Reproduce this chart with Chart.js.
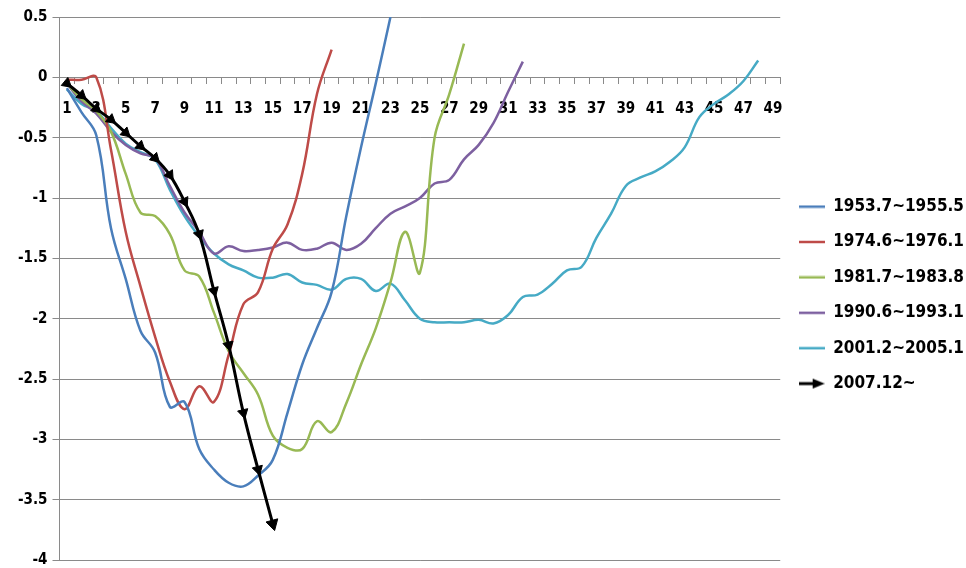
<!DOCTYPE html>
<html>
<head>
<meta charset="utf-8">
<title>Recession comparison</title>
<script src="https://cdn.jsdelivr.net/npm/chart.js@4.4.1/dist/chart.umd.min.js"></script>
<style>
    html, body { margin: 0; padding: 0; background: #fff; }
    #wrap { width: 966px; height: 568px; position: relative; }
</style>
</head>
<body>
<div id="wrap"><canvas id="chart"></canvas></div>
<script>
// Categories (months from start)
const categories = [1, 2, 3, 4, 5, 6, 7, 8, 9, 10, 11, 12, 13, 14, 15, 16, 17, 18, 19, 20,
    21, 22, 23, 24, 25, 26, 27, 28, 29, 30, 31, 32, 33, 34, 35, 36, 37, 38, 39, 40,
    41, 42, 43, 44, 45, 46, 47, 48, 49];

const seriesNames = ['1953.7~1955.5', '1974.6~1976.1', '1981.7~1983.8', '1990.6~1993.1', '2001.2~2005.1', '2007.12~'];

const s1953 = [-0.09, -0.29, -0.48, -1.25, -1.67, -2.1, -2.28, -2.73, -2.69, -3.08, -3.25, -3.36, -3.39, -3.3, -3.17,
    -2.78, -2.38, -2.08, -1.78, -1.15, -0.58, -0.05, 0.5];
const s1974 = [-0.02, -0.02, 0.0, -0.6, -1.28, -1.73, -2.15, -2.52, -2.75, -2.56, -2.69, -2.3, -1.88, -1.78, -1.42,
    -1.22, -0.8, -0.14, 0.23];
const s1981 = [-0.05, -0.18, -0.28, -0.45, -0.8, -1.12, -1.15, -1.3, -1.6, -1.65, -1.95, -2.27, -2.45, -2.63, -2.97,
    -3.07, -3.08, -2.85, -2.94, -2.7, -2.38, -2.08, -1.7, -1.28, -1.62, -0.5, -0.14, 0.28];
const s1990 = [-0.05, -0.2, -0.3, -0.45, -0.56, -0.63, -0.67, -0.9, -1.12, -1.28, -1.46, -1.4, -1.44, -1.43, -1.41,
    -1.37, -1.43, -1.42, -1.37, -1.43, -1.38, -1.25, -1.13, -1.07, -1.0, -0.88, -0.85, -0.68, -0.56, -0.38,
    -0.12, 0.13];
const s2001 = [-0.1, -0.22, -0.28, -0.42, -0.55, -0.62, -0.68, -0.93, -1.15, -1.32, -1.46, -1.55, -1.6, -1.66, -1.66,
    -1.63, -1.7, -1.72, -1.76, -1.67, -1.67, -1.77, -1.71, -1.85, -2.0, -2.03, -2.03, -2.03, -2.01, -2.04,
    -1.97, -1.82, -1.8, -1.71, -1.6, -1.57, -1.33, -1.13, -0.9, -0.83, -0.78, -0.7, -0.58, -0.33, -0.22,
    -0.14, -0.03, 0.14];
const s2007 = [-0.05, -0.15, -0.26, -0.35, -0.46, -0.57, -0.67, -0.81, -1.03, -1.3, -1.77, -2.22, -2.78, -3.25, -3.7];

const seriesColors = ['#4a7ebb', '#be4b48', '#98b954', '#7d60a0', '#46aac5', '#000000'];

const FONT = "'DejaVu Sans Condensed', 'DejaVu Sans', sans-serif";
const GRID = '#8a8a8a';

// Legend icons: plain line for the history series, arrow for the current one
function makeLineIcon(color) {
    const c = document.createElement('canvas');
    c.width = 26;
    c.height = 4;
    const ctx = c.getContext('2d');
    ctx.strokeStyle = color;
    ctx.lineWidth = 2.5;
    ctx.beginPath();
    ctx.moveTo(0, 2);
    ctx.lineTo(26, 2);
    ctx.stroke();
    return c;
}

function makeArrowIcon() {
    const c = document.createElement('canvas');
    c.width = 26;
    c.height = 12;
    const ctx = c.getContext('2d');
    ctx.strokeStyle = '#000';
    ctx.fillStyle = '#000';
    ctx.lineWidth = 3;
    ctx.beginPath();
    ctx.moveTo(0, 6);
    ctx.lineTo(18, 6);
    ctx.stroke();
    ctx.beginPath();
    ctx.moveTo(14, 1);
    ctx.lineTo(26, 6);
    ctx.lineTo(14, 11);
    ctx.closePath();
    ctx.fill();
    return c;
}

const legendIcons = seriesColors.slice(0, 5).map(makeLineIcon).concat([makeArrowIcon()]);

// Arrow markers follow the direction of the line
function arrowRotation(ctx) {
    const chart = ctx.chart;
    const data = ctx.dataset.data;
    const i = ctx.dataIndex;
    const xs = chart.scales.x, ys = chart.scales.y;
    if (!xs || !ys || data.length < 2) return 135;
    const a = Math.max(0, i - 1);
    const b = Math.min(data.length - 1, i + 1);
    const dx = xs.getPixelForValue(b) - xs.getPixelForValue(a);
    const dy = ys.getPixelForValue(data[b]) - ys.getPixelForValue(data[a]);
    return Math.atan2(dx, -dy) * 180 / Math.PI;
}

const seriesData = [s1953, s1974, s1981, s1990, s2001, s2007];

const datasets = seriesData.map(function(values, i) {
    const isCurrent = i === 5;
    return {
        label: seriesNames[i],
        data: values,
        borderColor: seriesColors[i],
        backgroundColor: seriesColors[i],
        borderWidth: isCurrent ? 3 : 2.5,
        tension: 0.4,
        fill: false,
        pointRadius: isCurrent ? function(ctx) { return ctx.dataIndex === values.length - 1 ? 7 : 6; } : 0,
        pointHoverRadius: 0,
        pointStyle: 'triangle',
        pointRotation: isCurrent ? arrowRotation : 0,
        pointBackgroundColor: '#000',
        pointBorderColor: '#000',
        pointBorderWidth: 1,
        order: isCurrent ? 0 : 1
    };
});

new Chart(document.getElementById('chart'), {
    type: 'line',
    data: {
        labels: categories,
        datasets: datasets
    },
    options: {
        responsive: true,
        maintainAspectRatio: false,
        animation: false,
        layout: {
            padding: { top: 17, bottom: 4, left: 13, right: -8 }
        },
        scales: {
            x: {
                type: 'category',
                position: { y: 0 },
                offset: true,
                grid: {
                    offset: true,
                    drawOnChartArea: false,
                    drawTicks: true,
                    tickLength: 6,
                    color: GRID
                },
                border: { color: GRID, width: 1 },
                ticks: {
                    autoSkip: false,
                    maxRotation: 0,
                    padding: 17,
                    color: '#000',
                    font: { family: FONT, size: 15, weight: 'bold' },
                    callback: function(value, index) {
                        return index % 2 === 0 ? this.getLabelForValue(value) : '';
                    }
                }
            },
            y: {
                min: -4,
                max: 0.5,
                afterFit: function(scale) {
                    // let the -4 label hang below the plot like the original
                    scale.paddingTop = 0;
                    scale.paddingBottom = 0;
                },
                grid: {
                    color: GRID,
                    tickLength: 7,
                    drawTicks: true
                },
                border: { color: GRID, width: 1 },
                ticks: {
                    stepSize: 0.5,
                    padding: 5,
                    color: '#000',
                    font: { family: FONT, size: 15, weight: 'bold' },
                    callback: function(value) {
                        return String(Math.round(value * 10) / 10);
                    }
                }
            }
        },
        plugins: {
            tooltip: { enabled: false },
            legend: {
                position: 'right',
                title: {
                    display: true,
                    text: '',
                    font: { size: 1 },
                    padding: 4
                },
                labels: {
                    usePointStyle: true,
                    pointStyleWidth: 26,
                    padding: 18.4,
                    color: '#000',
                    font: { family: FONT, size: 17, weight: 'bold' },
                    sort: function(a, b) {
                        return a.datasetIndex - b.datasetIndex;
                    },
                    generateLabels: function(chart) {
                        const items = Chart.defaults.plugins.legend.labels.generateLabels(chart);
                        return items.map(function(item) {
                            item.pointStyle = legendIcons[item.datasetIndex];
                            item.rotation = 0;
                            return item;
                        });
                    }
                }
            }
        }
    }
});
</script>
</body>
</html>
